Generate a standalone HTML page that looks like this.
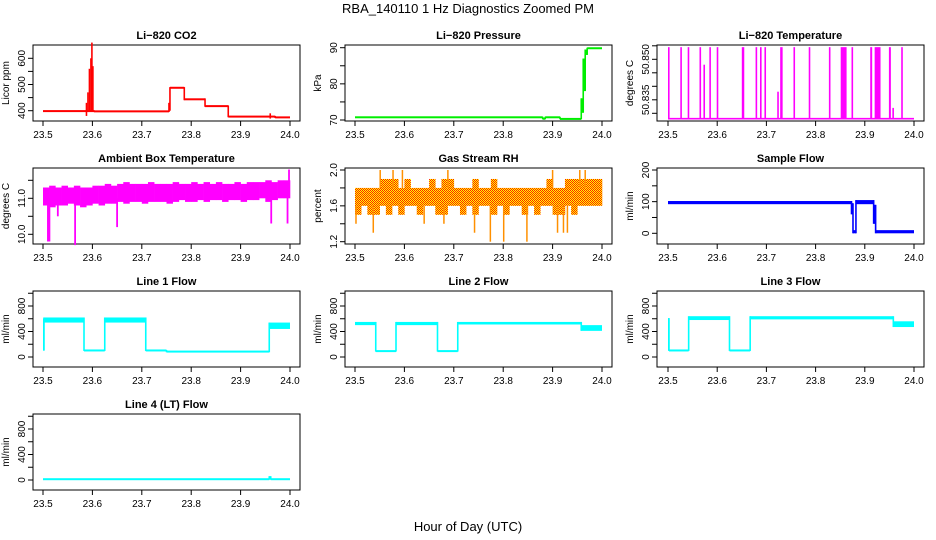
<!DOCTYPE html>
<html><head><meta charset="utf-8"><style>
html,body{margin:0;padding:0;background:#fff}
svg{display:block;font-family:"Liberation Sans",Arial,sans-serif}
</style></head><body>
<svg id="c" width="936" height="540" viewBox="0 0 936 540" xmlns="http://www.w3.org/2000/svg">
<defs>
<pattern id="rhpat" width="2" height="2" patternUnits="userSpaceOnUse">
<rect width="2" height="2" fill="#ffff00"/><rect width="1" height="1" fill="#ff2000"/><rect x="1" y="1" width="1" height="1" fill="#ff2000"/>
</pattern>
</defs>
<rect width="936" height="540" fill="#fff"/>
<text x="468" y="13" font-size="13" text-anchor="middle">RBA_140110  1 Hz Diagnostics Zoomed PM</text>
<text x="468" y="531" font-size="13" text-anchor="middle">Hour of Day (UTC)</text>
</svg>
<script>
// ---- data ----
const xTicks = [23.5, 23.6, 23.7, 23.8, 23.9, 24.0];
const xTickLabels = ["23.5", "23.6", "23.7", "23.8", "23.9", "24.0"];
// segments: [start hour, end hour, low value, high value]
const co2Segments = [[23.5,23.588,395,402],[23.588,23.603,395,402],[23.603,23.755,395,400],[23.755,23.757,400,430],[23.757,23.786,485,490],[23.786,23.828,440,447],[23.828,23.875,415,420],[23.875,23.97,375,380],[23.97,24.0,372,377]];
const co2Spikes = [[23.588,380,430],[23.591,400,470],[23.594,400,560],[23.597,400,600],[23.599,400,660],[23.601,400,570],[23.96,370,390]];
const pressureSegments = [[23.5,23.88,70.6,70.9],[23.88,23.885,70.2,70.5],[23.885,23.915,70.6,70.9],[23.915,23.958,70.2,70.4],[23.958,23.962,72,76],[23.962,23.966,78,87],[23.966,23.97,88,89.5],[23.97,24.0,89.7,90.0]];
const tempBaseline = 50.828;
const tempHighIntervals = [[23.500,23.503,50.8545],[23.525,23.528,50.8545],[23.540,23.543,50.8545],[23.564,23.567,50.8545],[23.572,23.574,50.848],[23.584,23.587,50.8545],[23.599,23.601,50.8545],[23.650,23.655,50.8545],[23.678,23.680,50.8545],[23.687,23.689,50.8545],[23.696,23.699,50.8545],[23.722,23.725,50.838],[23.728,23.733,50.8545],[23.755,23.757,50.8545],[23.786,23.789,50.8545],[23.827,23.828,50.8545],[23.851,23.863,50.8545],[23.873,23.876,50.8545],[23.911,23.915,50.8545],[23.920,23.932,50.8545],[23.949,23.953,50.8545],[23.956,23.957,50.832],[23.974,23.975,50.8545]];
const ambLo = [10.8,10.75,10.8,10.8,10.85,10.8,10.75,10.8,10.85,10.8,10.85,10.85,10.9,10.85,10.9,10.9,10.85,10.9,10.9,10.9,10.85,10.9,10.95,10.9,10.9,10.95,10.9,10.95,10.95,10.9,10.95,10.95,10.9,10.95,10.95,11.0,10.9,10.95,11.0,11.0];
const ambHi = [11.3,11.35,11.3,11.35,11.3,11.35,11.3,11.3,11.35,11.35,11.4,11.35,11.4,11.45,11.4,11.4,11.4,11.45,11.4,11.4,11.4,11.45,11.4,11.4,11.45,11.4,11.45,11.4,11.45,11.4,11.4,11.45,11.4,11.45,11.45,11.45,11.5,11.45,11.5,11.5];
const ambSpikes = [[23.51,9.8,11.0],[23.513,9.8,11.0],[23.53,10.5,11.0],[23.565,9.7,11.0],[23.65,10.2,11.0],[23.962,10.3,11.1],[23.995,10.3,11.1],[23.998,11.1,11.8]];
const rhLo = [1.5,1.6,1.5,1.5,1.6,1.5,1.6,1.5,1.6,1.6,1.5,1.6,1.6,1.5,1.5,1.6,1.6,1.5,1.6,1.5,1.6,1.6,1.5,1.6,1.5,1.6,1.6,1.5,1.6,1.5,1.6,1.6,1.5,1.5,1.6,1.5,1.6,1.6,1.6,1.6];
const rhHi = [1.8,1.8,1.8,1.8,1.9,1.9,1.9,1.8,1.9,1.8,1.8,1.8,1.9,1.8,1.9,1.9,1.8,1.8,1.8,1.9,1.8,1.8,1.9,1.8,1.8,1.8,1.8,1.8,1.8,1.8,1.8,1.9,1.8,1.8,1.9,1.9,1.9,1.9,1.9,1.9];
const rhSpikes = [[23.502,1.4,1.6],[23.537,1.3,1.6],[23.64,1.4,1.6],[23.68,1.4,1.6],[23.742,1.3,1.6],[23.774,1.2,1.6],[23.801,1.2,1.6],[23.848,1.2,1.6],[23.91,1.3,1.6],[23.922,1.3,1.6],[23.93,1.3,1.6],[23.551,1.8,2.0],[23.577,1.8,2.0],[23.596,1.8,2.0],[23.688,1.8,2.0],[23.9,1.8,2.0],[23.955,1.8,2.0],[23.966,1.8,2.0]];
const sampleSegments = [[23.5,23.873,92,102],[23.873,23.876,60,95],[23.876,23.882,0,10],[23.882,23.918,92,105],[23.918,23.922,30,90],[23.922,24.0,0,10]];
const line1Segments = [[23.5,23.502,100,600],[23.502,23.583,540,620],[23.583,23.625,95,110],[23.625,23.708,540,620],[23.708,23.75,95,110],[23.75,23.958,75,95],[23.958,24.0,440,540]];
const line2Segments = [[23.5,23.542,500,550],[23.542,23.583,85,100],[23.583,23.667,500,550],[23.667,23.708,85,100],[23.708,23.958,510,550],[23.958,24.0,410,500]];
const line3Segments = [[23.5,23.502,100,610],[23.502,23.542,95,110],[23.542,23.625,580,640],[23.625,23.667,95,110],[23.667,23.958,590,640],[23.958,24.0,470,560]];
const line4Segments = [[23.5,23.958,5,20],[23.958,23.961,5,60],[23.961,24.0,5,20]];

// ---- layout ----
const NS = "http://www.w3.org/2000/svg";
const svg = document.getElementById('c');
const colL = [33,345,657], colR = [300,612,924], colA = [43,355,668], colB = [290,602,914];
const rowT = [45,168,291,414];
function mk(tag, attrs, parent){const e=document.createElementNS(NS,tag);for(const k in attrs)e.setAttribute(k,attrs[k]);(parent||svg).appendChild(e);return e;}

const panels = [
 {name:'co2',title:'Li\u2212820 CO2',ylab:'Licor ppm',col:0,row:0,v0:400,p0:110.7,v1:600,p1:58.3,ticks:[400,450,500,550,600],labels:[400,500,600],fmt:v=>String(v)},
 {name:'pressure',title:'Li\u2212820 Pressure',ylab:'kPa',col:1,row:0,v0:70,p0:120,v1:90,p1:47.7,ticks:[70,75,80,85,90],labels:[70,80,90],fmt:v=>String(v)},
 {name:'temperature',title:'Li\u2212820 Temperature',ylab:'degrees C',col:2,row:0,v0:50.830,p0:113.3,v1:50.855,p1:45.8,ticks:[50.830,50.835,50.840,50.845,50.850,50.855],labels:[50.835,50.850],fmt:v=>v.toFixed(3)},
 {name:'ambient',title:'Ambient Box Temperature',ylab:'degrees C',col:0,row:1,v0:10,p0:234.3,v1:11,p1:198.3,ticks:[10,10.5,11,11.5],labels:[10,11],fmt:v=>v.toFixed(1)},
 {name:'rh',title:'Gas Stream RH',ylab:'percent',col:1,row:1,v0:1.2,p0:241.7,v1:2.0,p1:170,ticks:[1.2,1.4,1.6,1.8,2.0],labels:[1.2,1.6,2.0],fmt:v=>v.toFixed(1)},
 {name:'sample-flow',title:'Sample Flow',ylab:'ml/min',col:2,row:1,v0:0,p0:233.3,v1:200,p1:170,ticks:[0,50,100,150,200],labels:[0,100,200],fmt:v=>String(v)},
 {name:'line1',title:'Line 1 Flow',ylab:'ml/min',col:0,row:2,v0:0,p0:357,v1:800,p1:306,ticks:[0,200,400,600,800,1000],labels:[0,400,800],fmt:v=>String(v)},
 {name:'line2',title:'Line 2 Flow',ylab:'ml/min',col:1,row:2,v0:0,p0:357,v1:800,p1:306,ticks:[0,200,400,600,800,1000],labels:[0,400,800],fmt:v=>String(v)},
 {name:'line3',title:'Line 3 Flow',ylab:'ml/min',col:2,row:2,v0:0,p0:357,v1:800,p1:306,ticks:[0,200,400,600,800,1000],labels:[0,400,800],fmt:v=>String(v)},
 {name:'line4',title:'Line 4 (LT) Flow',ylab:'ml/min',col:0,row:3,v0:0,p0:480,v1:800,p1:429,ticks:[0,200,400,600,800,1000],labels:[0,400,800],fmt:v=>String(v)}
];

function scales(p){
  const a=colA[p.col], b=colB[p.col];
  p.X = t => a + (t-23.5)/0.5*(b-a);
  p.Y = v => p.p0 + (v-p.v0)/(p.v1-p.v0)*(p.p1-p.p0);
}

function drawFrame(p){
  const L=colL[p.col], R=colR[p.col], T=rowT[p.row], B=T+76;
  const g = mk('g',{});
  
  
  p.g = g;
  const t = mk('text',{x:(L+R)/2,y:T-6,'font-size':11,'font-weight':'bold','text-anchor':'middle'},g);
  t.textContent = p.title;
  
  
  const box = mk('rect',{x:L,y:T,width:R-L,height:B-T,fill:'none',stroke:'#000','stroke-width':1},g);
  
  
  xTicks.forEach((v,i)=>{
    const x=p.X(v);
    mk('line',{x1:x,y1:B,x2:x,y2:B+5,stroke:'#000'},g);
    const tl = mk('text',{x:x,y:B+17,'font-size':10,'text-anchor':'middle'},g);
    tl.textContent = xTickLabels[i];
    
    
  });
  p.ticks.forEach(v=>{
    const y=p.Y(v);
    mk('line',{x1:L-5,y1:y,x2:L,y2:y,stroke:'#000'},g);
  });
  p.labels.forEach(v=>{
    const y=p.Y(v), x=L-8;
    const tl = mk('text',{x:x,y:y,'font-size':10,'text-anchor':'middle',transform:`rotate(-90 ${x} ${y})`},g);
    tl.textContent = p.fmt(v);
    
    
  });
  const yx = L-24, yy=(T+B)/2;
  const yl = mk('text',{x:yx,y:yy,'font-size':10,'text-anchor':'middle',transform:`rotate(-90 ${yx} ${yy})`},g);
  yl.textContent = p.ylab;
  
  
}

function drawSegments(p, segs, color, connect){
  let prev=null;
  segs.forEach(s=>{
    const x0=p.X(s[0]), x1=p.X(s[1]);
    let y0=p.Y(s[3]), y1=p.Y(s[2]);
    if (y1-y0<2){const m=(y0+y1)/2;y0=m-1;y1=m+1;}
    const r = mk('rect',{x:x0,y:y0,width:Math.max(1.2,x1-x0),height:y1-y0,fill:color},p.g);
    
    
    if (connect && prev){
      const lo=Math.min(prev[2],s[2]), hi=Math.max(prev[3],s[3]);
      mk('line',{x1:x0,y1:p.Y(lo),x2:x0,y2:p.Y(hi),stroke:color,'stroke-width':1.6},p.g);
    }
    prev=s;
  });
}
function drawBins(p, lo, hi, fill){
  const n=lo.length, w=0.5/n;
  lo.forEach((v,i)=>{
    const t0=23.5+i*w, x0=p.X(t0), x1=p.X(t0+w);
    const r = mk('rect',{x:x0,y:p.Y(hi[i]),width:x1-x0+0.3,height:p.Y(v)-p.Y(hi[i]),fill:fill},p.g);
    
    
  });
}
function drawSpikes(p, spikes, color, w){
  spikes.forEach(s=>{
    const x=p.X(s[0]);
    const l = mk('line',{x1:x,y1:p.Y(s[1]),x2:x,y2:p.Y(s[2]),stroke:color,'stroke-width':w},p.g);
    
    
  });
}

panels.forEach(p=>{scales(p);drawFrame(p);});
const P = {}; panels.forEach(p=>P[p.name]=p);

drawSegments(P['co2'], co2Segments, '#ff0000', true);
drawSpikes(P['co2'], co2Spikes, '#ff0000', 1.6);
drawSegments(P['pressure'], pressureSegments, '#00ee00', true);

// temperature
(function(){
  const p=P['temperature'];
  const yb=p.Y(tempBaseline);
  mk('line',{x1:p.X(23.5),y1:yb,x2:p.X(24.0),y2:yb,stroke:'#ff00ff','stroke-width':1.6},p.g);
  tempHighIntervals.forEach(s=>{
    const x0=p.X(s[0]), x1=p.X(s[1]);
    const r = mk('rect',{x:x0,y:p.Y(s[2]),width:Math.max(1.6,x1-x0),height:yb-p.Y(s[2]),fill:'#ff00ff'},p.g);
    
    
  });
})();

drawBins(P['ambient'], ambLo, ambHi, '#ff00ff');
drawSpikes(P['ambient'], ambSpikes, '#ff00ff', 1.8);
drawBins(P['rh'], rhLo, rhHi, 'url(#rhpat)');
drawSpikes(P['rh'], rhSpikes, '#ff9000', 1.5);
drawSegments(P['sample-flow'], sampleSegments, '#0000ff', true);
drawSegments(P['line1'], line1Segments, '#00ffff', true);
drawSegments(P['line2'], line2Segments, '#00ffff', true);
drawSegments(P['line3'], line3Segments, '#00ffff', true);
drawSegments(P['line4'], line4Segments, '#00ffff', true);
</script>
</body></html>
